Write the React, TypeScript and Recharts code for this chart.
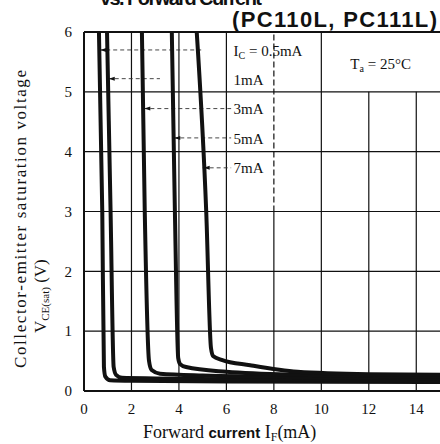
import React from 'react';
import {
  LineChart,
  Line,
  XAxis,
  YAxis,
  ReferenceLine,
  ReferenceDot,
} from 'recharts';

// IF (mA) vs VCE(sat) (V)
const curve05: [number, number][] = [[0.63, 6], [0.77, 3], [0.84, 0.4], [0.9, 0.24], [1.1, 0.18], [2, 0.17], [6, 0.16], [15, 0.15]];
const curve1: [number, number][] = [[0.97, 6], [1.12, 3], [1.25, 0.4], [1.35, 0.27], [1.6, 0.22], [3, 0.21], [8, 0.19], [15, 0.18]];
const curve3: [number, number][] = [[2.44, 6], [2.56, 3], [2.74, 0.5], [2.85, 0.35], [3.2, 0.29], [5, 0.26], [10, 0.23], [15, 0.21]];
const curve5: [number, number][] = [[3.7, 6], [3.83, 3], [3.97, 0.55], [4.05, 0.45], [4.3, 0.4], [6, 0.32], [9, 0.27], [15, 0.24]];
const curve7: [number, number][] = [[4.75, 6], [5.15, 3], [5.35, 0.72], [5.45, 0.58], [5.8, 0.52], [7, 0.43], [9, 0.32], [12, 0.28], [15, 0.27]];

const xTicks = [0, 2, 4, 6, 8, 10, 12, 14];
const yTicks = [0, 1, 2, 3, 4, 5, 6];

// label text, leader start (on curve), leader end, label position
const icLabels = [
  { text: '0.5mA', prefix: true, from: [0.64, 5.7], to: 5.0, y: 5.68 },
  { text: '1mA', prefix: false, from: [1.0, 5.22], to: 3.2, y: 5.2 },
  { text: '3mA', prefix: false, from: [2.5, 4.72], to: 6.2, y: 4.72 },
  { text: '5mA', prefix: false, from: [3.76, 4.23], to: 6.2, y: 4.22 },
  { text: '7mA', prefix: false, from: [5.0, 3.73], to: 6.2, y: 3.72 },
];

const curves = [curve05, curve1, curve3, curve5, curve7];

const serif = '"Liberation Serif", "DejaVu Serif", serif';
const sans = '"Liberation Sans", Arial, sans-serif';
const ink = '#111';

const toRows = (pts: [number, number][]) => pts.map(([x, y]) => ({ x, y }));

const Arrow = (props: any) => {
  const { cx, cy } = props;
  return <path d={`M${cx + 1},${cy} L${cx + 7},${cy - 2} L${cx + 7},${cy + 2} Z`} fill={ink} />;
};

const makeLabel = (content: React.ReactNode) => (props: any) => (
  <text x={props.cx} y={props.cy + 5} fontFamily={serif} fontSize={15} fill={ink}>
    {content}
  </text>
);

export default function App() {
  return (
    <div style={{ position: 'absolute', left: 0, top: 0, width: 440, height: 444, background: '#fff' }}>
      <LineChart width={440} height={444} margin={{ top: 32, right: 0, left: 0, bottom: 23 }}>
        <XAxis
          type="number"
          dataKey="x"
          domain={[0, 15]}
          ticks={xTicks}
          allowDataOverflow
          height={30}
          tickLine={false}
          tickMargin={6}
          axisLine={{ stroke: ink, strokeWidth: 2 }}
          tick={{ fontFamily: serif, fontSize: 15, fill: ink }}
        />
        <YAxis
          type="number"
          domain={[0, 6]}
          ticks={yTicks}
          allowDataOverflow
          width={84}
          tickLine={false}
          tickMargin={6}
          axisLine={{ stroke: ink, strokeWidth: 2 }}
          tick={{ fontFamily: serif, fontSize: 15, fill: ink }}
        />

        {/* grid */}
        {[1, 2, 3, 4, 5].map((v) => (
          <ReferenceLine key={'h' + v} y={v} stroke={ink} strokeWidth={1.2} />
        ))}
        <ReferenceLine y={6} stroke={ink} strokeWidth={2} />
        {[2, 4, 6, 10].map((v) => (
          <ReferenceLine key={'v' + v} x={v} stroke={ink} strokeWidth={1.2} />
        ))}
        <ReferenceLine segment={[{ x: 8, y: 0 }, { x: 8, y: 3 }]} stroke={ink} strokeWidth={1.2} />
        <ReferenceLine segment={[{ x: 8, y: 3 }, { x: 8, y: 6 }]} stroke={ink} strokeWidth={1.2} strokeDasharray="6 3" />
        {[12, 14].map((v) => (
          <ReferenceLine key={'v' + v} segment={[{ x: v, y: 0 }, { x: v, y: 5 }]} stroke={ink} strokeWidth={1.2} />
        ))}

        {/* leaders */}
        {icLabels.map((l) => (
          <ReferenceLine
            key={'ld' + l.text}
            segment={[{ x: l.from[0], y: l.from[1] }, { x: l.to, y: l.from[1] }]}
            stroke="#333"
            strokeWidth={0.9}
            strokeDasharray="4 3"
          />
        ))}
        {icLabels.map((l) => (
          <ReferenceDot key={'ar' + l.text} x={l.from[0]} y={l.from[1]} r={0} shape={Arrow} />
        ))}
        {icLabels.map((l) => (
          <ReferenceDot
            key={'lb' + l.text}
            x={6.3}
            y={l.y}
            r={0}
            shape={makeLabel(
              l.prefix ? (
                <>
                  I<tspan fontSize={10} dy={3}>C</tspan>
                  <tspan dy={-3}>{' = ' + l.text}</tspan>
                </>
              ) : (
                l.text
              )
            )}
          />
        ))}
        <ReferenceDot
          x={12.5}
          y={5.47}
          r={0}
          shape={(p: any) => (
            <text x={p.cx} y={p.cy + 5} textAnchor="middle" fontFamily={serif} fontSize={15} fill={ink}>
              T<tspan fontSize={10} dy={3}>a</tspan>
              <tspan dy={-3}> = 25°C</tspan>
            </text>
          )}
        />

        {curves.map((c, i) => (
          <Line
            key={i}
            data={toRows(c)}
            dataKey="y"
            type="monotone"
            stroke={ink}
            strokeWidth={4}
            dot={false}
            isAnimationActive={false}
          />
        ))}
      </LineChart>

      <svg width={440} height={444} style={{ position: 'absolute', left: 0, top: 0, pointerEvents: 'none' }}>
        <text x={100} y={5} fontFamily={sans} fontWeight="bold" fontSize={20} fill={ink} textLength={162} lengthAdjust="spacing">
          vs. Forward Current
        </text>
        <text x={232} y={27} fontFamily={sans} fontWeight="bold" fontSize={22} fill={ink} textLength={205} lengthAdjust="spacing">
          (PC110L, PC111L)
        </text>
        <text transform="rotate(-90)" x={-368} y={26} fontFamily={serif} fontSize={17} fill={ink} textLength={298} lengthAdjust="spacing">
          Collector-emitter saturation voltage
        </text>
        <text transform="rotate(-90)" x={-333} y={46} fontFamily={serif} fontSize={17} fill={ink}>
          V<tspan fontSize={11} dy={3}>CE(sat)</tspan>
          <tspan dy={-3}> (V)</tspan>
        </text>
        <text x={143} y={438} fontFamily={serif} fontSize={18} fill={ink}>
          Forward <tspan fontFamily={sans} fontWeight="bold" fontSize={15}>current</tspan> I
          <tspan fontSize={12} dy={3}>F</tspan>
          <tspan dy={-3}>(mA)</tspan>
        </text>
      </svg>
    </div>
  );
}
